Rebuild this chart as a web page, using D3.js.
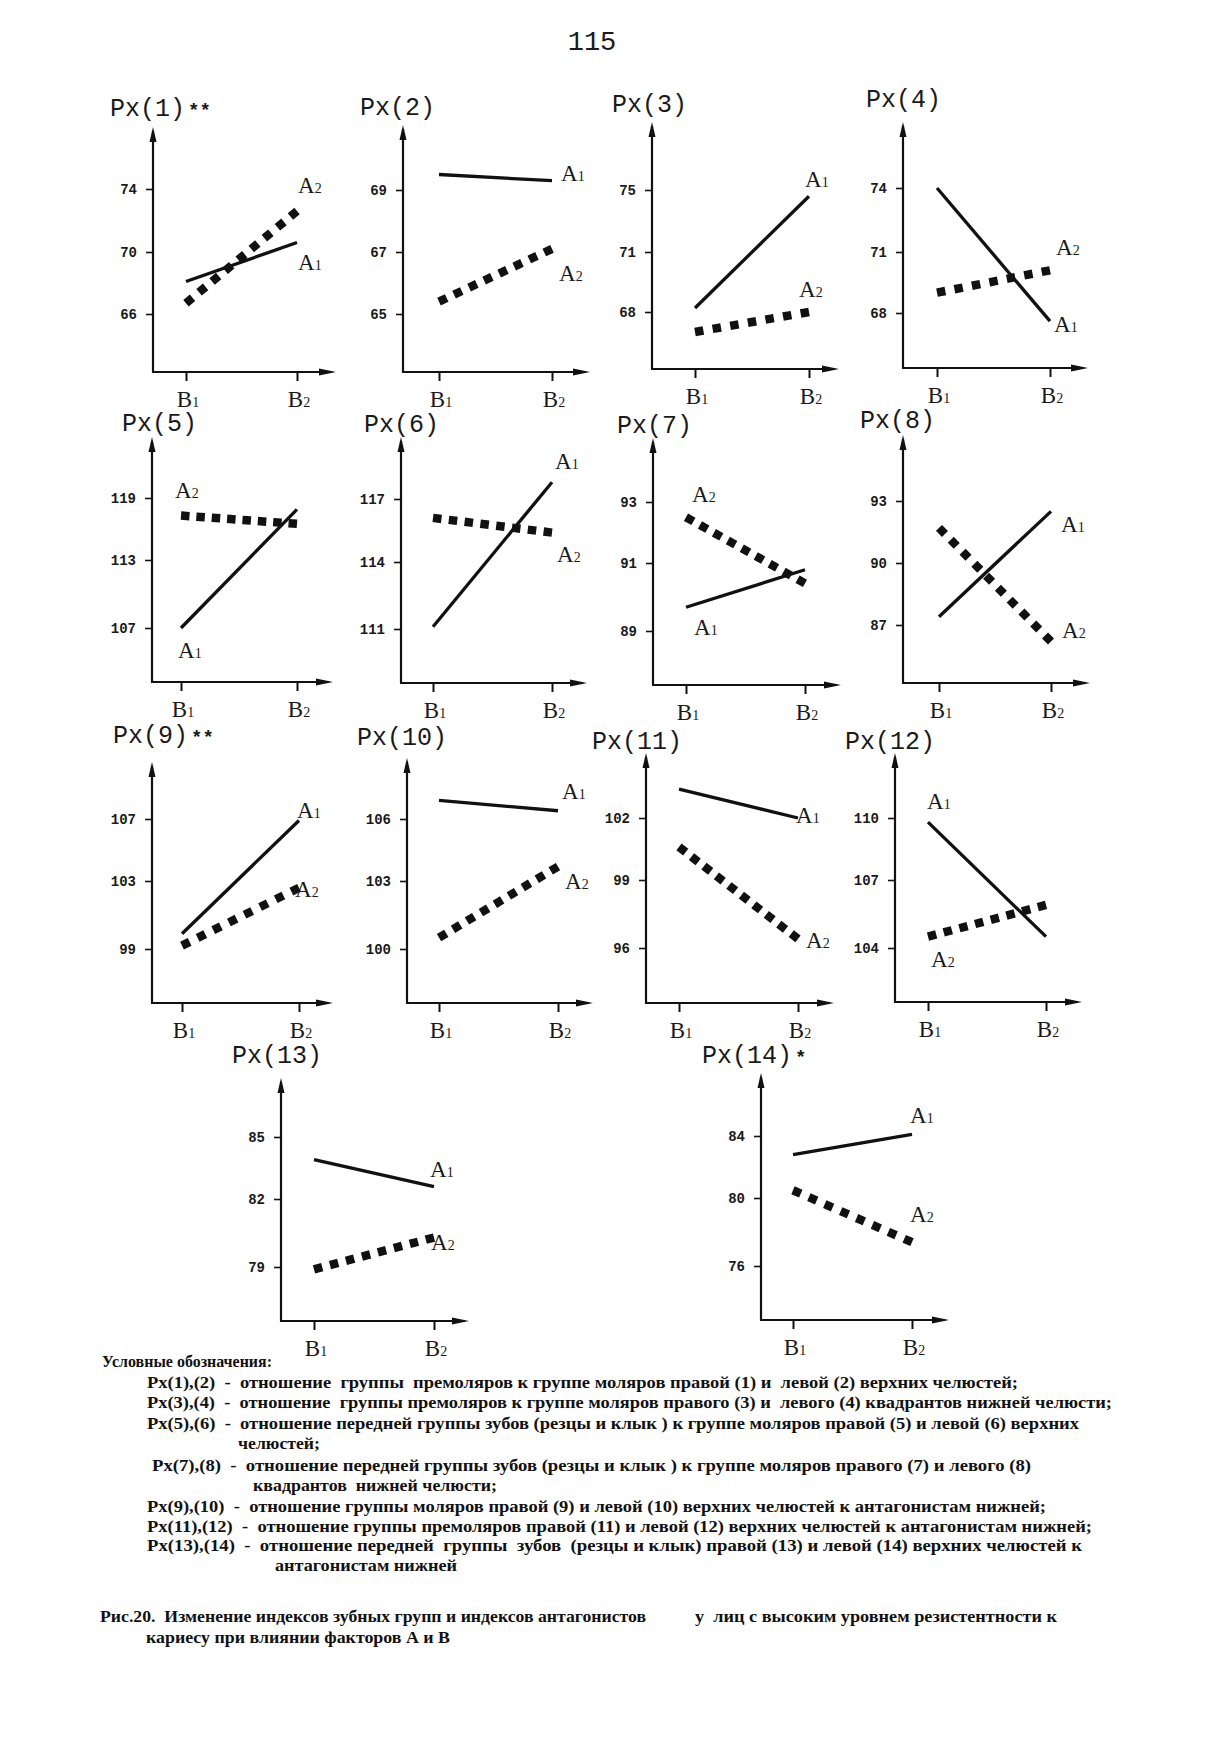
<!DOCTYPE html>
<html><head><meta charset="utf-8">
<script src="https://cdn.jsdelivr.net/npm/d3@7"></script>
<style>
body{margin:0;background:#fff}
svg{display:block}
.note{font-family:"Liberation Serif","Times New Roman",serif;font-weight:bold;white-space:pre}
</style>
</head><body>
<svg id="c" width="1214" height="1738"></svg>
<script>
// ---------------- DATA ----------------
const titles = ["Px(1)**","Px(2)","Px(3)","Px(4)","Px(5)","Px(6)","Px(7)","Px(8)",
                "Px(9)**","Px(10)","Px(11)","Px(12)","Px(13)","Px(14)*"];
const categories = ["B1","B2"];
const seriesNames = ["A1","A2"];
const a1Values = [[68.1,70.6],[69.5,69.3],[68.2,74.6],[74.0,67.6],
                  [107.0,117.9],[111.1,117.8],[89.7,90.8],[87.4,92.5],
                  [99.9,106.9],[106.9,106.4],[103.4,102.0],[109.8,104.5],
                  [83.9,82.6],[82.8,84.1]];
const a2Values = [[66.7,72.6],[65.4,67.1],[67.0,68.0],[69.0,70.1],
                  [117.3,116.5],[116.1,115.4],[92.5,90.4],[91.7,86.2],
                  [99.2,102.6],[100.5,103.7],[100.6,96.4],[104.5,105.9],
                  [78.9,80.3],[80.5,77.4]];
const tickLabels = [[74,70,66],[69,67,65],[75,71,68],[74,71,68],
                    [119,113,107],[117,114,111],[93,91,89],[93,90,87],
                    [107,103,99],[106,103,100],[102,99,96],[110,107,104],
                    [85,82,79],[84,80,76]];
const pageNumber = "115";
const notes = [
 "Условные обозначения:",
 "Px(1),(2)  -  отношение  группы  премоляров к группе моляров правой (1) и  левой (2) верхних челюстей;",
 "Px(3),(4)  -  отношение  группы премоляров к группе моляров правого (3) и  левого (4) квадрантов нижней челюсти;",
 "Px(5),(6)  -  отношение передней группы зубов (резцы и клык ) к группе моляров правой (5) и левой (6) верхних",
 "челюстей;",
 "Px(7),(8)  -  отношение передней группы зубов (резцы и клык ) к группе моляров правого (7) и левого (8)",
 "квадрантов  нижней челюсти;",
 "Px(9),(10)  -  отношение группы моляров правой (9) и левой (10) верхних челюстей к антагонистам нижней;",
 "Px(11),(12)  -  отношение группы премоляров правой (11) и левой (12) верхних челюстей к антагонистам нижней;",
 "Px(13),(14)  -  отношение передней  группы  зубов  (резцы и клык) правой (13) и левой (14) верхних челюстей к",
 "антагонистам нижней"
];
const captionLines = [
 "Рис.20.  Изменение индексов зубных групп и индексов антагонистов",
 "у  лиц с высоким уровнем резистентности к",
 "кариесу при влиянии факторов А и В"
];

// ---------------- LAYOUT (positions only) ----------------
const layout = [
 {ax:153,top:127,bot:372,xe:336,b:[186,297],ty:[189,252,314],t:[110,116]},
 {ax:403,top:125,bot:372,xe:590,b:[439,552],ty:[190,252,314],t:[360,115]},
 {ax:652,top:122,bot:369,xe:839,b:[695,809],ty:[190,252,312],t:[612,112]},
 {ax:903,top:122,bot:368,xe:1088,b:[937,1050],ty:[188,252,313],t:[866,107]},
 {ax:152,top:437,bot:682,xe:333,b:[181,297],ty:[498,560,628],t:[122,431]},
 {ax:401,top:437,bot:683,xe:587,b:[433,552],ty:[499,562,629],t:[364,432]},
 {ax:653,top:438,bot:685,xe:841,b:[686,805],ty:[502,563,631],t:[617,433]},
 {ax:903,top:435,bot:683,xe:1090,b:[939,1051],ty:[501,563,625],t:[860,428]},
 {ax:152,top:762,bot:1003,xe:333,b:[182,299],ty:[819,881,949],t:[113,743]},
 {ax:407,top:758,bot:1003,xe:593,b:[439,558],ty:[819,881,949],t:[357,745]},
 {ax:646,top:753,bot:1003,xe:834,b:[679,798],ty:[818,880,948],t:[592,749]},
 {ax:895,top:753,bot:1002,xe:1082,b:[928,1046],ty:[818,880,948],t:[845,749]},
 {ax:281,top:1078,bot:1321,xe:469,b:[314,434],ty:[1137,1199,1267],t:[232,1063]},
 {ax:761,top:1073,bot:1320,xe:949,b:[793,912],ty:[1136,1198,1266],t:[702,1063]}
];
const labelPos = [
 [[1,1,27],[1,1,-18]],[[1,9,0],[1,7,32]],[[1,-4,-9],[1,-10,-15]],[[1,4,11],[1,6,-15]],
 [[0,-3,30],[0,-6,-18]],[[1,3,-13],[1,5,29]],[[0,8,28],[0,6,-15]],[[1,10,21],[1,11,-4]],
 [[1,-2,-3],[1,-4,9]],[[1,4,-12],[1,7,22]],[[1,-2,5],[1,8,9]],[[0,-1,-13],[0,3,30]],
 [[1,-4,-10],[1,-3,12]],[[1,-2,-11],[1,-2,-20]]
];
const notePos = [[102,1367,170],[147,1388,871],[147,1408,965],[147,1429,932],[238,1449,82],
 [152,1471,879],[253,1491,244],[147,1512,899],[147,1532,945],[147,1551,935],[275,1571,182]];
const captionPos = [[100,1622,546],[695,1622,362],[146,1643,304]];

// ---------------- DRAW ----------------
const svg = d3.select("#c");
svg.append("rect").attr("width",1214).attr("height",1738).attr("fill","#fff");
const ink = "#111";
const mono = "'Liberation Mono','Courier New',monospace";
const serif = "'Liberation Serif','Times New Roman',serif";

svg.append("text").attr("x",592).attr("y",50).attr("text-anchor","middle")
  .attr("font-family",mono).attr("font-size",27).attr("fill","#1a1a1a").text(pageNumber);

titles.forEach((title, i) => {
  const L = layout[i];
  const g = svg.append("g");
  const y = d3.scaleLinear().domain(tickLabels[i]).range(L.ty);
  const x = d3.scalePoint().domain(categories).range(L.b);

  const m = title.match(/^(Px\(\d+\))(\**)$/);
  const tt = g.append("text").attr("x",L.t[0]).attr("y",L.t[1])
    .attr("font-family",mono).attr("font-size",25).attr("fill","#1a1a1a");
  tt.append("tspan").text(m[1]);
  if (m[2]) tt.append("tspan").attr("font-size",19).attr("dx",3).attr("font-weight","bold").text(m[2]);

  g.append("line").attr("x1",L.ax).attr("y1",L.bot).attr("x2",L.ax).attr("y2",L.top+4)
    .attr("stroke",ink).attr("stroke-width",2.2);
  g.append("path").attr("d",`M${L.ax},${L.top} L${L.ax-3.5},${L.top+15} L${L.ax+3.5},${L.top+15}Z`).attr("fill",ink);
  g.append("line").attr("x1",L.ax-1).attr("y1",L.bot).attr("x2",L.xe-4).attr("y2",L.bot)
    .attr("stroke",ink).attr("stroke-width",2.2);
  g.append("path").attr("d",`M${L.xe},${L.bot} L${L.xe-17},${L.bot-3.5} L${L.xe-17},${L.bot+3.5}Z`).attr("fill",ink);

  const ya = g.append("g").attr("transform",`translate(${L.ax},0)`)
    .call(d3.axisLeft(y).tickValues(tickLabels[i]).tickSize(7).tickPadding(9).tickFormat(d3.format("d")));
  ya.select(".domain").remove();
  ya.selectAll("line").attr("stroke",ink).attr("stroke-width",1.6);
  ya.selectAll("text").attr("font-family",mono)
    .attr("font-weight","bold").attr("font-size",14).attr("fill","#1a1a1a");

  const xa = g.append("g").attr("transform",`translate(0,${L.bot})`)
    .call(d3.axisBottom(x).tickSize(9).tickFormat(""));
  xa.select(".domain").remove();
  xa.selectAll("line").attr("stroke",ink).attr("stroke-width",2);
  categories.forEach(c => {
    const t = g.append("text").attr("x",x(c)+2).attr("y",L.bot+35).attr("text-anchor","middle")
      .attr("font-family",serif).attr("font-size",23).attr("fill","#1a1a1a");
    t.append("tspan").text(c[0]);
    t.append("tspan").attr("font-size",14).text(c.slice(1));
  });

  const line = d3.line().x((d,k) => x(categories[k])).y(d => y(d));
  g.append("path").datum(a1Values[i]).attr("d",line).attr("fill","none")
    .attr("stroke",ink).attr("stroke-width",3.3);
  const p2 = g.append("path").datum(a2Values[i]).attr("d",line).attr("fill","none")
    .attr("stroke",ink).attr("stroke-width",8.5);
  const len = p2.node().getTotalLength(), dash = 8.5;
  const n = Math.max(2, Math.round((len + 8) / (dash + 8)));
  const gap = (len - n * dash) / (n - 1);
  p2.attr("stroke-dasharray", `${dash},${gap}`);

  [a1Values[i], a2Values[i]].forEach((vals, s) => {
    const [e, dx, dy] = labelPos[i][s];
    const t = g.append("text").attr("x",x(categories[e])+dx).attr("y",y(vals[e])+dy)
      .attr("font-family",serif).attr("font-size",23).attr("fill","#1a1a1a");
    t.append("tspan").text(seriesNames[s][0]);
    t.append("tspan").attr("font-size",14).text(seriesNames[s].slice(1));
  });
});

notes.forEach((s, i) => {
  const [x0, y0, len] = notePos[i];
  svg.append("text").attr("class","note").attr("x",x0).attr("y",y0)
    .attr("font-size",17.5).attr("fill","#111")
    .attr("textLength",len).attr("lengthAdjust","spacingAndGlyphs").text(s);
});
captionLines.forEach((s, i) => {
  const [x0, y0, len] = captionPos[i];
  svg.append("text").attr("class","note").attr("x",x0).attr("y",y0)
    .attr("font-size",17.5).attr("fill","#111")
    .attr("textLength",len).attr("lengthAdjust","spacingAndGlyphs").text(s);
});
</script>
</body></html>
